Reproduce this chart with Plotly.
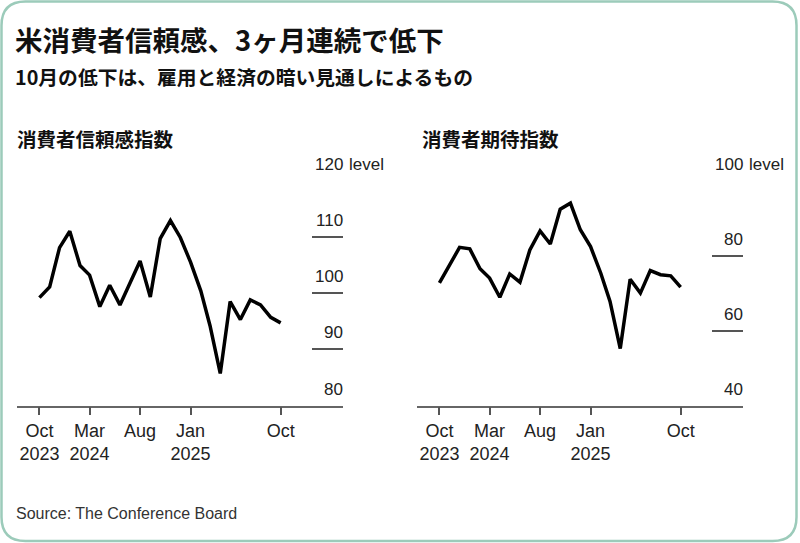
import plotly.graph_objects as go

# ---------------- data ----------------
months = ["2023-10-01", "2023-11-01", "2023-12-01", "2024-01-01", "2024-02-01",
          "2024-03-01", "2024-04-01", "2024-05-01", "2024-06-01", "2024-07-01",
          "2024-08-01", "2024-09-01", "2024-10-01", "2024-11-01", "2024-12-01",
          "2025-01-01", "2025-02-01", "2025-03-01", "2025-04-01", "2025-05-01",
          "2025-06-01", "2025-07-01", "2025-08-01", "2025-09-01", "2025-10-01"]
confidence = [99.2, 101.1, 108.1, 111.0, 104.9, 103.2, 97.6, 101.4, 97.9, 101.8,
              105.7, 99.3, 109.7, 112.9, 109.9, 105.5, 100.4, 94.2, 85.7, 98.5,
              95.3, 98.8, 97.9, 95.7, 94.7]
expectations = [72.7, 77.6, 82.2, 81.8, 76.5, 74.0, 68.9, 75.1, 72.9, 81.5,
                86.6, 83.1, 92.4, 94.0, 86.9, 82.4, 75.3, 67.8, 55.2, 73.7,
                70.0, 76.0, 74.9, 74.6, 71.6]
x_tickvals = ["2023-10-01", "2024-03-01", "2024-08-01", "2025-01-01", "2025-10-01"]
x_ticktext = ["Oct<br>2023", "Mar<br>2024", "Aug", "Jan<br>2025", "Oct"]
conf_ticks = [80, 90, 100, 110, 120]
exp_ticks = [40, 60, 80, 100]
x_range = ["2023-07-25", "2026-04-08"]

title = "米消費者信頼感、3ヶ月連続で低下"
subtitle = "10月の低下は、雇用と経済の暗い見通しによるもの"
panel_titles = ["消費者信頼感指数", "消費者期待指数"]
unit = "level"
source = "Source: The Conference Board"

# ---------------- layout helpers ----------------
W, H = 800, 543
def px(x):
    return x / W
def py(y):
    return 1 - y / H

CJK = "Noto Sans CJK JP"
LAT = "Liberation Sans, Arial, sans-serif"

fig = go.Figure()
fig.add_trace(go.Scatter(x=months, y=confidence, mode="lines",
                         line=dict(color="#000000", width=3.5),
                         xaxis="x", yaxis="y", showlegend=False, hoverinfo="skip"))
fig.add_trace(go.Scatter(x=months, y=expectations, mode="lines",
                         line=dict(color="#000000", width=3.5),
                         xaxis="x2", yaxis="y2", showlegend=False, hoverinfo="skip"))

y_bottom, y_top = 405.5, 180.7
panels = [
    dict(x0=17, x1=343, ticks=conf_ticks, xa="xaxis", ya="yaxis", xr="x", yr="y"),
    dict(x0=417, x1=743, ticks=exp_ticks, xa="xaxis2", ya="yaxis2", xr="x2", yr="y2"),
]

layout = dict(
    width=W, height=H,
    margin=dict(l=0, r=0, t=0, b=0),
    paper_bgcolor="white", plot_bgcolor="white",
    showlegend=False,
)
annotations = []
for i, p in enumerate(panels):
    layout[p["xa"]] = dict(
        domain=[px(p["x0"]), px(p["x1"])], anchor=p["yr"], type="date",
        range=x_range, tickvals=x_tickvals, ticktext=x_ticktext,
        ticks="outside", ticklen=8, tickwidth=1.5, tickcolor="#555555",
        showline=True, linecolor="#666666", linewidth=1.5,
        showgrid=False, zeroline=False,
        tickfont=dict(family=LAT, size=18, color="#222222"),
    )
    layout[p["ya"]] = dict(
        domain=[py(y_bottom), py(y_top)], anchor=p["xr"], side="right",
        range=[min(p["ticks"]), max(p["ticks"])], tickvals=p["ticks"],
        ticks="inside", ticklen=31, tickwidth=1.5, tickcolor="#555555",
        showticklabels=False, showgrid=False, showline=False, zeroline=False,
    )
    for v in p["ticks"]:
        annotations.append(dict(
            x=px(p["x1"] + 2), xref="paper", xanchor="right",
            y=v, yref=p["yr"], yanchor="bottom", yshift=5,
            text=str(v), showarrow=False,
            font=dict(family=LAT, size=17, color="#222222"),
        ))
    annotations.append(dict(
        x=px(p["x1"] + 2), xref="paper", xanchor="left",
        y=max(p["ticks"]), yref=p["yr"], yanchor="bottom", yshift=5, xshift=2,
        text=unit, showarrow=False,
        font=dict(family=LAT, size=17, color="#222222"),
    ))
    annotations.append(dict(
        x=px(15 if i == 0 else 420), xref="paper", xanchor="left",
        y=py(138), yref="paper", yanchor="middle",
        text="<b>%s</b>" % panel_titles[i], showarrow=False,
        font=dict(family=CJK, size=19.5, color="#111111"),
    ))

annotations += [
    dict(x=px(13), y=py(39), xref="paper", yref="paper", xanchor="left", yanchor="middle",
         text="<b>%s</b>" % title, showarrow=False,
         font=dict(family=CJK, size=27.5, color="#111111")),
    dict(x=px(13), y=py(77), xref="paper", yref="paper", xanchor="left", yanchor="middle",
         text="<b>%s</b>" % subtitle, showarrow=False,
         font=dict(family=CJK, size=19.8, color="#111111")),
    dict(x=px(14), y=py(513), xref="paper", yref="paper", xanchor="left", yanchor="middle",
         text=source, showarrow=False,
         font=dict(family=LAT, size=16, color="#333333")),
]
layout["annotations"] = annotations

# rounded border
l, t, r, b, rad = 1.5, 1.5, 796.5, 541, 24
path = (f"M {px(l+rad)},{py(t)} L {px(r-rad)},{py(t)} Q {px(r)},{py(t)} {px(r)},{py(t+rad)} "
        f"L {px(r)},{py(b-rad)} Q {px(r)},{py(b)} {px(r-rad)},{py(b)} "
        f"L {px(l+rad)},{py(b)} Q {px(l)},{py(b)} {px(l)},{py(b-rad)} "
        f"L {px(l)},{py(t+rad)} Q {px(l)},{py(t)} {px(l+rad)},{py(t)} Z")
layout["shapes"] = [dict(type="path", path=path, xref="paper", yref="paper",
                         line=dict(color="#9ccbba", width=2.5), layer="below")]

fig.update_layout(**layout)
fig.write_html("out.html")
